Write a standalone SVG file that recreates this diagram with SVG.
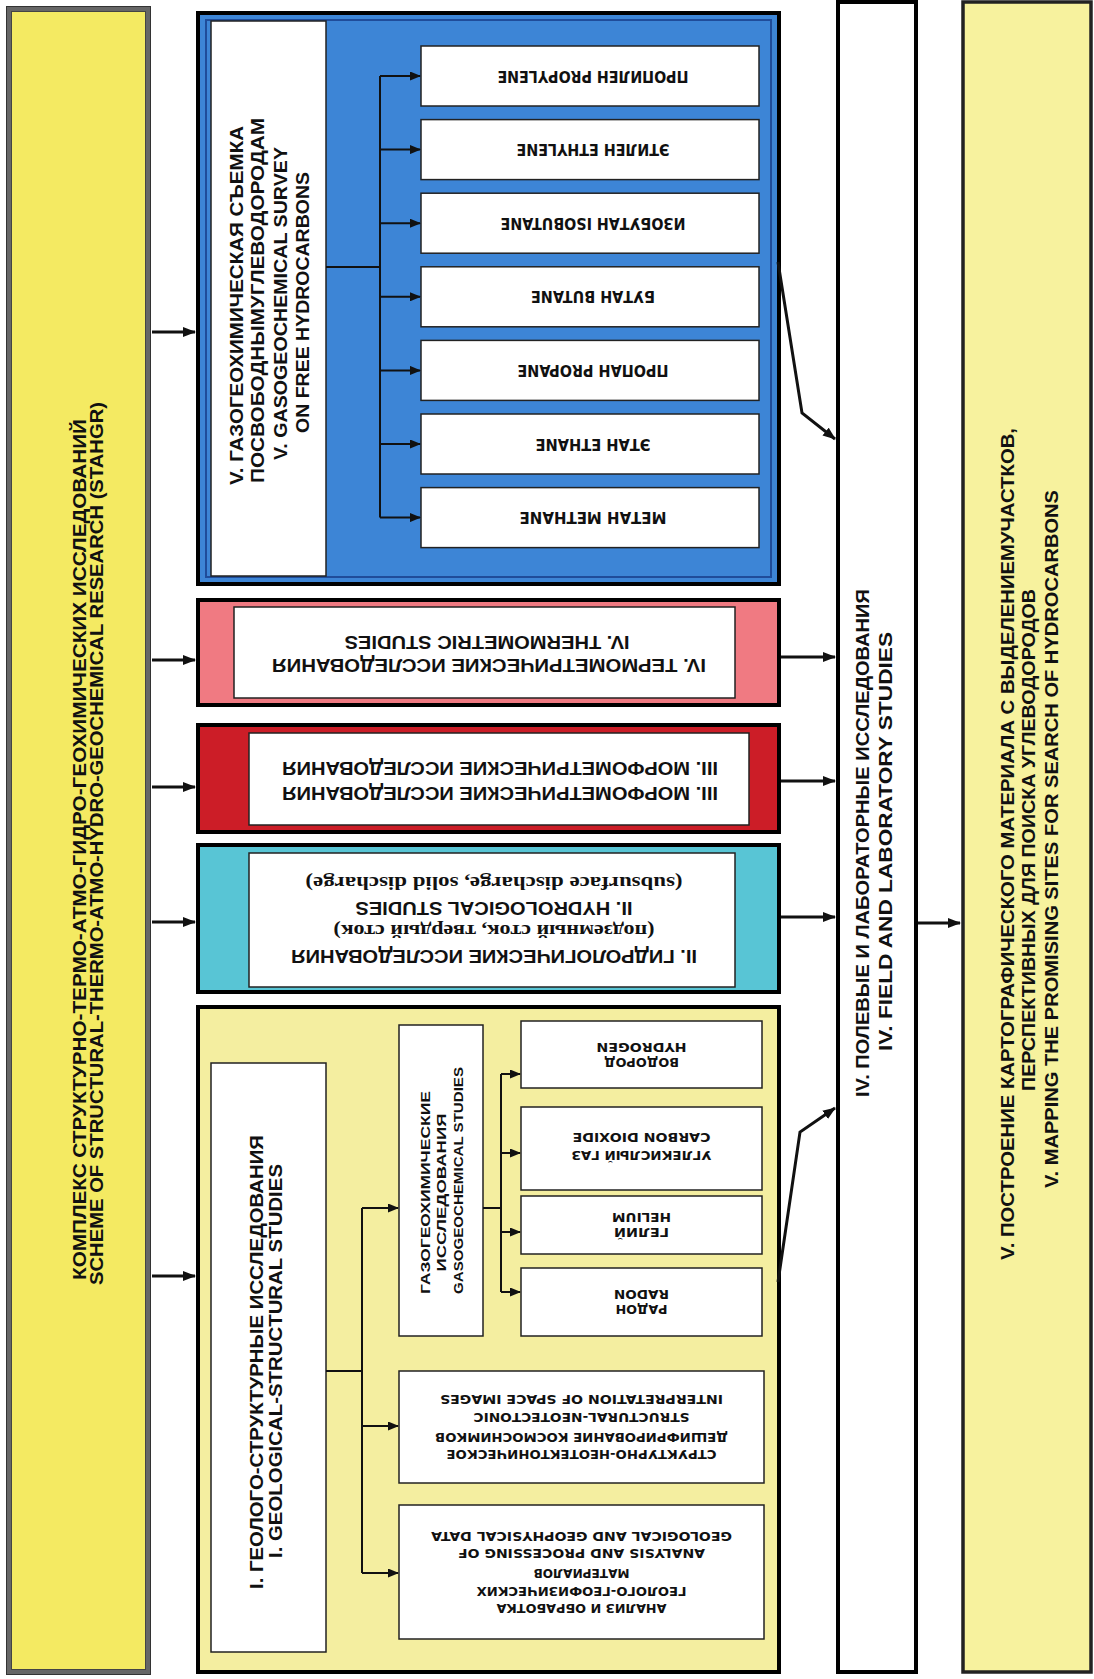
<svg xmlns="http://www.w3.org/2000/svg" width="1094" height="1679" viewBox="0 0 1094 1679">
<defs>
<marker id="ah" markerUnits="userSpaceOnUse" markerWidth="13" markerHeight="10" refX="12" refY="5" orient="auto"><path d="M0,0 L13,5 L0,10 z" fill="#111"/></marker>
<marker id="as" markerUnits="userSpaceOnUse" markerWidth="11" markerHeight="9" refX="10" refY="4.5" orient="auto"><path d="M0,0 L11,4.5 L0,9 z" fill="#111"/></marker>
</defs>
<style>
.t{font-family:"Liberation Sans Narrow","Liberation Sans",Arial,sans-serif;font-weight:bold;fill:#111;text-anchor:middle}
.w{font-family:"DejaVu Sans","Liberation Sans",sans-serif;font-weight:bold;fill:#111;text-anchor:middle}
.s{font-family:"Liberation Serif","Times New Roman",serif;font-weight:bold;fill:#111;text-anchor:middle}
.h{font-family:"Liberation Sans",Arial,sans-serif;font-weight:bold;fill:#111;text-anchor:middle}
.box{fill:#fff;stroke:#222;stroke-width:1.5}
.frame{stroke:#000;stroke-width:4}
.c{fill:none;stroke:#111;stroke-width:3}
.b{fill:none;stroke:#111;stroke-width:2}
</style>
<rect width="1094" height="1679" fill="#fff"/>

<g id="stahgr">
<rect x="9" y="9" width="139" height="1663" fill="#f4ea62" stroke="#666" stroke-width="5"/>
<rect x="6.5" y="6.5" width="144" height="1668" fill="none" stroke="#333" stroke-width="1"/>
<rect x="11.5" y="11.5" width="134" height="1658" fill="none" stroke="#444" stroke-width="1"/>
<text class="t" font-size="19" x="79.5" y="856.3" textLength="861" lengthAdjust="spacingAndGlyphs" transform="rotate(-90 79.5 849.5)">КОМПЛЕКС СТРУКТУРНО-ТЕРМО-АТМО-ГИДРО-ГЕОХИМИЧЕСКИХ ИССЛЕДОВАНИЙ</text>
<text class="t" font-size="19" x="96.5" y="850.3" textLength="883" lengthAdjust="spacingAndGlyphs" transform="rotate(-90 96.5 843.5)">SCHEME OF STRUCTURAL-THERMO-ATMO-HYDRO-GEOCHEMICAL RESEARCH (STAHGR)</text>
</g>

<g id="gas-survey">
<rect x="198" y="13" width="581" height="571" fill="#3d85d6" class="frame"/>
<rect x="206" y="20" width="565" height="557" fill="none" stroke="#1f4c9a" stroke-width="2"/>
<rect x="211" y="21" width="115" height="555" class="box"/>
<text class="t" font-size="19" x="236" y="312.3" textLength="359" lengthAdjust="spacingAndGlyphs" transform="rotate(-90 236 305.5)">V. ГАЗОГЕОХИМИЧЕСКАЯ СЪЕМКА</text>
<text class="t" font-size="19" x="257.5" y="307.3" textLength="365" lengthAdjust="spacingAndGlyphs" transform="rotate(-90 257.5 300.5)">ПОСВОБОДНЫМУГЛЕВОДОРОДАМ</text>
<text class="t" font-size="19" x="280.5" y="310.3" textLength="313" lengthAdjust="spacingAndGlyphs" transform="rotate(-90 280.5 303.5)">V. GASOGEOCHEMICAL SURVEY</text>
<text class="t" font-size="19" x="302" y="309.3" textLength="261" lengthAdjust="spacingAndGlyphs" transform="rotate(-90 302 302.5)">ON FREE HYDROCARBONS</text>
</g>
<g id="propylene"><rect x="421" y="46" width="338" height="60" class="box"/><text class="w" font-size="15" x="593" y="81.4" textLength="191" lengthAdjust="spacingAndGlyphs" transform="rotate(180 593 76)">ПРОПИЛЕН PROPYLENE</text></g>
<g id="ethylene"><rect x="421" y="119.6" width="338" height="60" class="box"/><text class="w" font-size="15" x="593" y="155" textLength="153" lengthAdjust="spacingAndGlyphs" transform="rotate(180 593 149.6)">ЭТИЛЕН ETHYLENE</text></g>
<g id="isobutane"><rect x="421" y="193.2" width="338" height="60" class="box"/><text class="w" font-size="15" x="593" y="228.6" textLength="185" lengthAdjust="spacingAndGlyphs" transform="rotate(180 593 223.2)">ИЗОБУТАН ISOBUTANE</text></g>
<g id="butane"><rect x="421" y="266.8" width="338" height="60" class="box"/><text class="w" font-size="15" x="593" y="302.2" textLength="124" lengthAdjust="spacingAndGlyphs" transform="rotate(180 593 296.8)">БУТАН BUTANE</text></g>
<g id="propane"><rect x="421" y="340.4" width="338" height="60" class="box"/><text class="w" font-size="15" x="593" y="375.8" textLength="151" lengthAdjust="spacingAndGlyphs" transform="rotate(180 593 370.4)">ПРОПАН PROPANE</text></g>
<g id="ethane"><rect x="421" y="414" width="338" height="60" class="box"/><text class="w" font-size="15" x="593" y="449.4" textLength="115" lengthAdjust="spacingAndGlyphs" transform="rotate(180 593 444)">ЭТАН ETHANE</text></g>
<g id="methane"><rect x="421" y="487.6" width="338" height="60" class="box"/><text class="w" font-size="15" x="593" y="523" textLength="147" lengthAdjust="spacingAndGlyphs" transform="rotate(180 593 517.6)">МЕТАН METHANE</text></g>

<g id="thermometric">
<rect x="198" y="600" width="581" height="105" fill="#f07a82" class="frame"/>
<rect x="234" y="607" width="501" height="91" class="box"/>
<text class="h" font-size="18" x="489" y="672" textLength="434" lengthAdjust="spacingAndGlyphs" transform="rotate(180 489 665.5)">IV. ТЕРМОМЕТРИЧЕСКИЕ ИССЛЕДОВАНИЯ</text>
<text class="h" font-size="18" x="487" y="648.5" textLength="285" lengthAdjust="spacingAndGlyphs" transform="rotate(180 487 642)">IV. THERMOMETRIC STUDIES</text>
</g>

<g id="morphometric">
<rect x="198" y="725" width="581" height="107" fill="#cc1d27" class="frame"/>
<rect x="249" y="733" width="500" height="92" class="box"/>
<text class="h" font-size="18" x="500" y="774.5" textLength="436" lengthAdjust="spacingAndGlyphs" transform="rotate(180 500 768)">III. МОРФОМЕТРИЧЕСКИЕ ИССЛЕДОВАНИЯ</text>
<text class="h" font-size="18" x="500" y="799.5" textLength="436" lengthAdjust="spacingAndGlyphs" transform="rotate(180 500 793)">III. МОРФОМЕТРИЧЕСКИЕ ИССЛЕДОВАНИЯ</text>
</g>

<g id="hydrological">
<rect x="198" y="845" width="581" height="147" fill="#58c5d5" class="frame"/>
<rect x="249" y="853" width="486" height="134" class="box"/>
<text class="h" font-size="18" x="494" y="963" textLength="406" lengthAdjust="spacingAndGlyphs" transform="rotate(180 494 956.5)">II. ГИДРОЛОГИЧЕСКИЕ ИССЛЕДОВАНИЯ</text>
<text class="s" font-size="18" x="494" y="935" textLength="321" lengthAdjust="spacingAndGlyphs" transform="rotate(180 494 930)">(подземный сток, твердый сток)</text>
<text class="h" font-size="18" x="494" y="914.5" textLength="277" lengthAdjust="spacingAndGlyphs" transform="rotate(180 494 908)">II. HYDROLOGICAL STUDIES</text>
<text class="s" font-size="18" x="494" y="887" textLength="377" lengthAdjust="spacingAndGlyphs" transform="rotate(180 494 882)">(subsurface discharge, solid discharge)</text>
</g>

<g id="geological">
<rect x="198" y="1007" width="581" height="665" fill="#f4eea0" class="frame"/>
<rect x="211" y="1063" width="115" height="589" class="box"/>
<text class="t" font-size="19" x="256" y="1368.8" textLength="454" lengthAdjust="spacingAndGlyphs" transform="rotate(-90 256 1362)">I. ГЕОЛОГО-СТРУКТУРНЫЕ ИССЛЕДОВАНИЯ</text>
<text class="t" font-size="19" x="275" y="1367.8" textLength="394" lengthAdjust="spacingAndGlyphs" transform="rotate(-90 275 1361)">I. GEOLOGICAL-STRUCTURAL STUDIES</text>
</g>
<g id="gasogeochemical">
<rect x="399" y="1025" width="84" height="311" class="box"/>
<text class="t" font-size="13" x="425.5" y="1197.2" textLength="203" lengthAdjust="spacingAndGlyphs" transform="rotate(-90 425.5 1192.5)">ГАЗОГЕОХИМИЧЕСКИЕ</text>
<text class="t" font-size="13" x="441.5" y="1197.2" textLength="158" lengthAdjust="spacingAndGlyphs" transform="rotate(-90 441.5 1192.5)">ИССЛЕДОВАНИЯ</text>
<text class="t" font-size="13" x="458" y="1185.2" textLength="227" lengthAdjust="spacingAndGlyphs" transform="rotate(-90 458 1180.5)">GASOGEOCHEMICAL STUDIES</text>
</g>
<g id="hydrogen"><rect x="521" y="1021" width="241" height="67" class="box"/>
<text class="w" font-size="12" x="641.5" y="1066.9" textLength="75" lengthAdjust="spacingAndGlyphs" transform="rotate(180 641.5 1062.6)">ВОДОРОД</text>
<text class="w" font-size="12" x="641.5" y="1051.3" textLength="90" lengthAdjust="spacingAndGlyphs" transform="rotate(180 641.5 1047)">HYDROGEN</text></g>
<g id="carbon-dioxide"><rect x="521" y="1107" width="241" height="83" class="box"/>
<text class="w" font-size="12" x="641.5" y="1159.3" textLength="140" lengthAdjust="spacingAndGlyphs" transform="rotate(180 641.5 1155)">УГЛЕКИСЛЫЙ ГАЗ</text>
<text class="w" font-size="12" x="641.5" y="1141.3" textLength="138" lengthAdjust="spacingAndGlyphs" transform="rotate(180 641.5 1137)">CARBON DIOXIDE</text></g>
<g id="helium"><rect x="521" y="1196" width="241" height="58" class="box"/>
<text class="w" font-size="12" x="641.5" y="1236.3" textLength="55" lengthAdjust="spacingAndGlyphs" transform="rotate(180 641.5 1232)">ГЕЛИЙ</text>
<text class="w" font-size="12" x="641.5" y="1221.3" textLength="59" lengthAdjust="spacingAndGlyphs" transform="rotate(180 641.5 1217)">HELIUM</text></g>
<g id="radon"><rect x="521" y="1268" width="241" height="68" class="box"/>
<text class="w" font-size="12" x="641.5" y="1313.3" textLength="52" lengthAdjust="spacingAndGlyphs" transform="rotate(180 641.5 1309)">РАДОН</text>
<text class="w" font-size="12" x="641.5" y="1298.3" textLength="55" lengthAdjust="spacingAndGlyphs" transform="rotate(180 641.5 1294)">RADON</text></g>
<g id="structural"><rect x="399" y="1371" width="365" height="112" class="box"/>
<text class="w" font-size="12" x="581.5" y="1458.3" textLength="270" lengthAdjust="spacingAndGlyphs" transform="rotate(180 581.5 1454)">СТРУКТУРНО-НЕОТЕКТОНИЧЕСКОЕ</text>
<text class="w" font-size="12" x="581.5" y="1441.3" textLength="293" lengthAdjust="spacingAndGlyphs" transform="rotate(180 581.5 1437)">ДЕШИФРИРОВАНИЕ КОСМОСНИМКОВ</text>
<text class="w" font-size="12" x="581.5" y="1421.3" textLength="216" lengthAdjust="spacingAndGlyphs" transform="rotate(180 581.5 1417)">STRUCTURAL-NEOTECTONIC</text>
<text class="w" font-size="12" x="581.5" y="1403.3" textLength="283" lengthAdjust="spacingAndGlyphs" transform="rotate(180 581.5 1399)">INTERPRETATION OF SPACE IMAGES</text></g>
<g id="analysis"><rect x="399" y="1505" width="365" height="134" class="box"/>
<text class="w" font-size="12" x="581.5" y="1612.3" textLength="170" lengthAdjust="spacingAndGlyphs" transform="rotate(180 581.5 1608)">АНАЛИЗ И ОБРАБОТКА</text>
<text class="w" font-size="12" x="581.5" y="1595.3" textLength="210" lengthAdjust="spacingAndGlyphs" transform="rotate(180 581.5 1591)">ГЕОЛОГО-ГЕОФИЗИЧЕСКИХ</text>
<text class="w" font-size="12" x="581.5" y="1577.3" textLength="96" lengthAdjust="spacingAndGlyphs" transform="rotate(180 581.5 1573)">МАТЕРИАЛОВ</text>
<text class="w" font-size="12" x="581.5" y="1557.3" textLength="247" lengthAdjust="spacingAndGlyphs" transform="rotate(180 581.5 1553)">ANALYSIS AND PROCESSING OF</text>
<text class="w" font-size="12" x="581.5" y="1540.3" textLength="301" lengthAdjust="spacingAndGlyphs" transform="rotate(180 581.5 1536)">GEOLOGICAL AND GEOPHYSICAL DATA</text></g>

<g id="field-lab">
<rect x="838" y="2" width="78" height="1670" fill="#fff" class="frame"/>
<text class="t" font-size="18" x="862" y="849.5" textLength="508" lengthAdjust="spacingAndGlyphs" transform="rotate(-90 862 843)">IV. ПОЛЕВЫЕ И ЛАБОРАТОРНЫЕ ИССЛЕДОВАНИЯ</text>
<text class="t" font-size="18" x="885" y="848" textLength="419" lengthAdjust="spacingAndGlyphs" transform="rotate(-90 885 841.5)">IV. FIELD AND LABORATORY STUDIES</text>
</g>

<g id="mapping">
<rect x="963" y="2" width="128" height="1670" fill="#f7f29e" stroke="#222" stroke-width="3.5"/>
<text class="t" font-size="18" x="1007" y="850.5" textLength="832" lengthAdjust="spacingAndGlyphs" transform="rotate(-90 1007 844)">V. ПОСТРОЕНИЕ КАРТОГРАФИЧЕСКОГО МАТЕРИАЛА С ВЫДЕЛЕНИЕМУЧАСТКОВ,</text>
<text class="t" font-size="18" x="1028.5" y="846.5" textLength="502" lengthAdjust="spacingAndGlyphs" transform="rotate(-90 1028.5 840)">ПЕРСПЕКТИВНЫХ ДЛЯ ПОИСКА УГЛЕВОДОРОДОВ</text>
<text class="t" font-size="18" x="1051.5" y="845.5" textLength="698" lengthAdjust="spacingAndGlyphs" transform="rotate(-90 1051.5 839)">V. MAPPING THE PROMISING SITES FOR SEARCH OF HYDROCARBONS</text>
</g>

<g id="connectors">
<line class="c" x1="152" y1="332" x2="195" y2="332" marker-end="url(#ah)"/>
<line class="c" x1="152" y1="660" x2="195" y2="660" marker-end="url(#ah)"/>
<line class="c" x1="152" y1="787" x2="195" y2="787" marker-end="url(#ah)"/>
<line class="c" x1="152" y1="922" x2="195" y2="922" marker-end="url(#ah)"/>
<line class="c" x1="152" y1="1276" x2="195" y2="1276" marker-end="url(#ah)"/>
<line class="c" x1="781" y1="657" x2="835" y2="657" marker-end="url(#ah)"/>
<line class="c" x1="781" y1="781" x2="835" y2="781" marker-end="url(#ah)"/>
<line class="c" x1="781" y1="917" x2="835" y2="917" marker-end="url(#ah)"/>
<polyline class="c" points="778,262 802,413 835,439" marker-end="url(#ah)"/>
<polyline class="c" points="778,1282 800,1132 835,1108" marker-end="url(#ah)"/>
<line class="c" x1="918" y1="923" x2="960" y2="923" marker-end="url(#ah)"/>
<polyline class="b" points="326,267 380,267"/>
<line class="b" x1="380" y1="76" x2="380" y2="517.6"/>
<line class="b" x1="380" y1="76" x2="420" y2="76" marker-end="url(#as)"/>
<line class="b" x1="380" y1="149.6" x2="420" y2="149.6" marker-end="url(#as)"/>
<line class="b" x1="380" y1="223.2" x2="420" y2="223.2" marker-end="url(#as)"/>
<line class="b" x1="380" y1="296.8" x2="420" y2="296.8" marker-end="url(#as)"/>
<line class="b" x1="380" y1="370.4" x2="420" y2="370.4" marker-end="url(#as)"/>
<line class="b" x1="380" y1="444" x2="420" y2="444" marker-end="url(#as)"/>
<line class="b" x1="380" y1="517.6" x2="420" y2="517.6" marker-end="url(#as)"/>
<polyline class="b" points="326,1371 362,1371"/>
<line class="b" x1="362" y1="1208" x2="362" y2="1573"/>
<line class="b" x1="362" y1="1208" x2="398" y2="1208" marker-end="url(#as)"/>
<line class="b" x1="362" y1="1426" x2="398" y2="1426" marker-end="url(#as)"/>
<line class="b" x1="362" y1="1573" x2="398" y2="1573" marker-end="url(#as)"/>
<polyline class="b" points="483,1208 501,1208"/>
<line class="b" x1="501" y1="1074" x2="501" y2="1292"/>
<line class="b" x1="501" y1="1074" x2="520" y2="1074" marker-end="url(#as)"/>
<line class="b" x1="501" y1="1153" x2="520" y2="1153" marker-end="url(#as)"/>
<line class="b" x1="501" y1="1232" x2="520" y2="1232" marker-end="url(#as)"/>
<line class="b" x1="501" y1="1292" x2="520" y2="1292" marker-end="url(#as)"/>
</g>
</svg>
